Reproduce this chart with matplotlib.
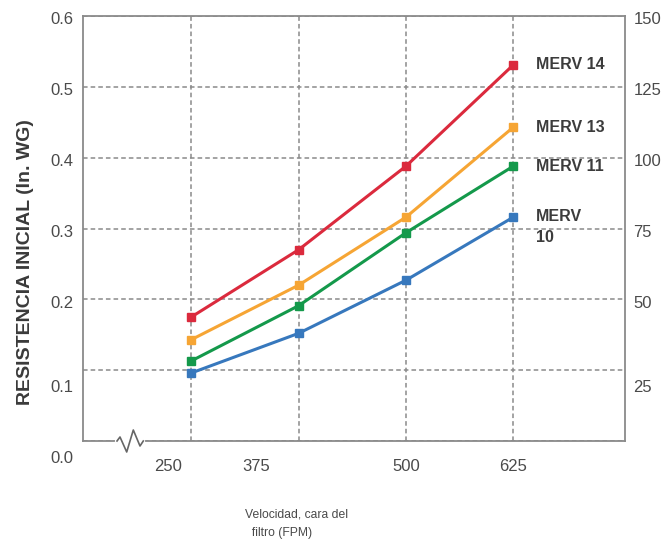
import matplotlib.pyplot as plt
import matplotlib.transforms as mtransforms
import numpy as np

plt.rcParams['font.family'] = ['Liberation Sans', 'DejaVu Sans']

# velocidad (FPM) y resistencia inicial (in. WG)
velocidad = [250, 375, 500, 625]
merv14 = [0.175, 0.270, 0.388, 0.531]
merv13 = [0.143, 0.220, 0.316, 0.443]
merv11 = [0.113, 0.191, 0.294, 0.388]
merv10 = [0.096, 0.152, 0.227, 0.316]

series = [
    ("MERV 14", merv14, "#db2a3d"),
    ("MERV 13", merv13, "#f6a534"),
    ("MERV 11", merv11, "#14994b"),
    ("MERV\n10", merv10, "#3778bd"),
]

left_ticks = [0.0, 0.1, 0.2, 0.3, 0.4, 0.5, 0.6]
right_ticks = [25, 50, 75, 100, 125, 150]

gris = "#8a8a8a"
texto = "#4a4a4a"

fig = plt.figure(figsize=(6.64, 5.46), dpi=100)
ax = fig.add_axes([83 / 664, 105 / 546, 542 / 664, 425 / 546])

for nombre, vals, col in series:
    ax.plot(velocidad, vals, color=col, lw=2.2, marker="s", ms=6,
            mec=col, mfc=col, zorder=3)
    # la etiqueta de dos lineas empieza a la altura del marcador
    dos = "\n" in nombre
    ax.annotate(nombre, xy=(velocidad[-1], vals[-1]),
                xytext=(16, 6 if dos else 0), textcoords="offset points",
                ha="left", va="top" if dos else "center",
                fontsize=11.5, fontweight="bold", color="#3c3c3c",
                linespacing=1.55)

ax.set_xlim(124, 755)
ax.set_ylim(0, 0.6)
ax.set_xticks(velocidad)
ax.set_xticklabels([str(v) for v in velocidad])
ax.set_yticks(left_ticks)
ax.set_yticklabels([f"{t:.1f}" for t in left_ticks])

ax.grid(True, color=gris, ls=(0, (3, 2)), lw=1.1)
ax.set_axisbelow(True)
ax.tick_params(length=0, labelsize=12, labelcolor=texto)
ax.tick_params(axis="y", pad=7)

for s in ax.spines.values():
    s.set_color(gris)
    s.set_linewidth(1.3)

# desplazamientos de las etiquetas como en el original
x_off = [-23, -42, 0, 0]
for lab, dx in zip(ax.get_xticklabels(), x_off):
    lab.set_transform(lab.get_transform() +
                      mtransforms.ScaledTranslation(dx / 100, -13 / 100, fig.dpi_scale_trans))
y_off = [-16, -16, -2.5, -2.5, -2.5, -2.5, -2.5]
for lab, dy in zip(ax.get_yticklabels(), y_off):
    lab.set_transform(lab.get_transform() +
                      mtransforms.ScaledTranslation(0, dy / 100, fig.dpi_scale_trans))

ax2 = ax.twinx()
ax2.set_ylim(0, 150)
ax2.set_yticks(right_ticks)
ax2.set_yticklabels([str(t) for t in right_ticks])
ax2.tick_params(length=0, labelsize=12, labelcolor=texto, pad=6)
for s in ax2.spines.values():
    s.set_visible(False)
r_off = [-16, -2.5, -2.5, -2.5, -2.5, -2.5]
for lab, dy in zip(ax2.get_yticklabels(), r_off):
    lab.set_transform(lab.get_transform() +
                      mtransforms.ScaledTranslation(0, dy / 100, fig.dpi_scale_trans))

# corte del eje x (zigzag)
w, h = 542.0, 425.0
zx = np.array([117, 120, 126.7, 133.3, 140, 143.3]) - 83
zy = np.array([0, 4, -11, 11, -5, 0])
ax.plot([zx[0] / w, zx[-1] / w], [0, 0], color="white", lw=3,
        transform=ax.transAxes, clip_on=False, zorder=4)
ax.plot(zx / w, zy / h, color="#666666", lw=1.2,
        transform=ax.transAxes, clip_on=False, zorder=5)

ax.set_ylabel("RESISTENCIA INICIAL (In. WG)", fontsize=14, fontweight="bold",
              color="#3a3a3a")
ax.yaxis.set_label_coords(-0.09, 0.42)

fig.text(245 / 664, 1 - 524 / 546, "Velocidad, cara del\n  filtro (FPM)",
         fontsize=8.7, color=texto, ha="left", va="center", linespacing=1.75)

fig.savefig("out.png", dpi=100)
